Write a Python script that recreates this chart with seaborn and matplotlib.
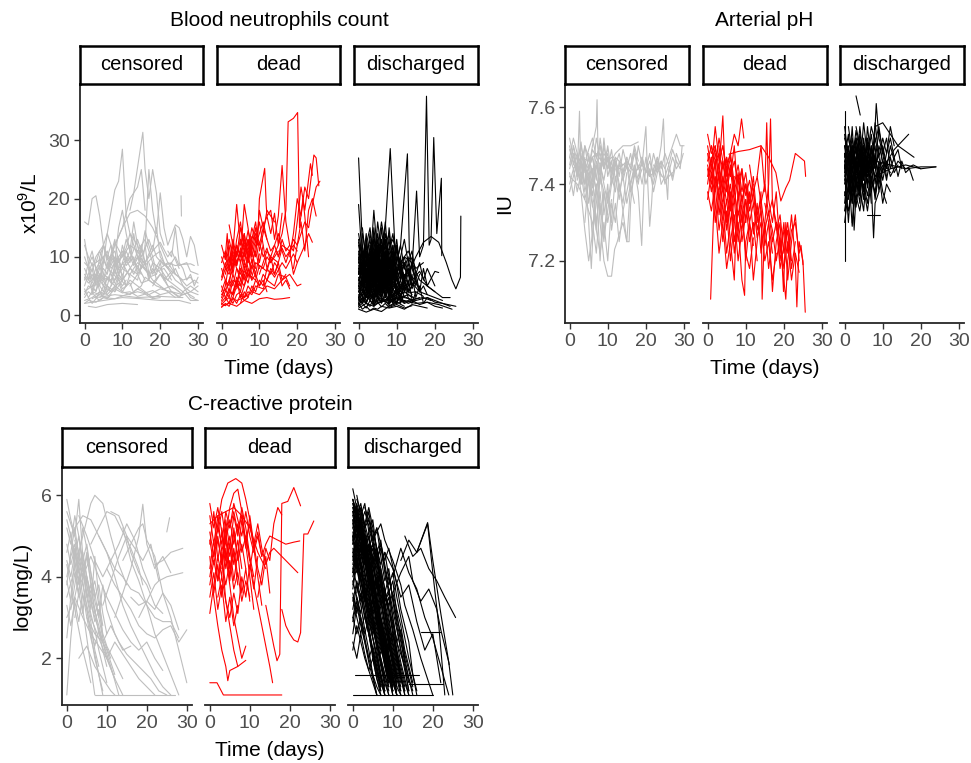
import matplotlib
matplotlib.use("Agg")
import pandas as pd
import seaborn as sns
import matplotlib.pyplot as plt

sns.set_style("ticks")
plt.rcParams['font.family'] = ['Liberation Sans', 'DejaVu Sans']
plt.rcParams['mathtext.fontset'] = 'custom'
plt.rcParams['mathtext.rm'] = 'Liberation Sans'

OUTCOMES = ['censored', 'dead', 'discharged']
COLOURS = {'censored': '#BEBEBE', 'dead': '#FF0000', 'discharged': '#000000'}
DAY_TICKS = [0, 10, 20, 30]

# each string is one patient: "day,value day,value ..."
neut_censored = [
    "0,16 1,15.5 2,20 3,20.5 4,17 5,12 6,9 7,7 8,5.5",
    "4,10 6,14 8,21.5 9,23 10,28.5 11,17 12,14 14,10 16,8",
    "12,18 13,21 15.4,31.4 16,25 17,20 18,25 19,21 20,14 21,12",
    "6,8 8,12 10,15 12,20 14,22 15,25 16,18",
    "16,12 17,25 18,18 19,14 20,21 21,15 22,12 24,15.5 25,15 26,13 27,10 28,13.5 29,12 30,8.5",
    "25.5,20.5 25.6,17",
    "1,1.5 3,1.3 6,1.8 10,2 14,1.8",
    "0,2 5,2.5 10,3 15,2.8 20,2.5 25,2.5 28,2",
    "3,3 8,3.5 14,3 20,3.2 26,3",
    "8,12 10,15 12,17.5 14,18 16,17 18,15 20,12 22,9 24,7",
    "0,10 1,8 2,5 3,4 4,6 5,5 6,3.5",
    "0,13 1,9 2,6 3,7 4,4 5,3",
    "0,5 1,7 2,9 3,6 4,8 5,12 6,10 7,8 8,9 9,7 10,6",
    "0,4 2,5 4,7 6,6 8,9 10,10 12,12 14,11 16,13 18,9 20,8 22,6 24,5 26,4 28,5 30,4",
    "0,3 1,4 2,3.5 3,6 4,10 5,7 6,4",
    "2,4 3,7 4,5 5,9 6,14 7,12 8,8 9,10 10,6",
    "7,5 8,9 9,15 10,18 11,14 12,11 13,16 14,12 15,9",
    "10,6 12,8 14,10 16,9 18,11 19,15 20,10 22,8 24,6 26,5 28,3 30,2.5",
    "18,5 20,7 22,6 24,8 26,5 28,4 30,5",
    "20,8 22,9 24,8.5 26,8.7 28,8.8 29,8.5",
    "0,7 1,6 2,8 3,5 4,7 5,6 6,9 7,7 8,6 9,8 10,7 11,5",
    "0,2.5 2,3 4,4 6,3.5 8,5 10,4 12,6 14,5 16,4 18,3 20,3.5",
    "4,3 6,4 8,6 10,8 12,7 14,9 16,8 18,6 20,5 22,4 24,3",
    "12,5 14,7 15,12 16,9 17,6 18,8 19,7 20,9 21,6 22,5 23,4 24,3.5 25,3 26,4 28,2.5 30,2.5",
    "0,6 1,9 2,11 3,8 4,6 5,10 6,8",
    "22,11 23,10 24,15 25,9 26,8 27,6 28,7 29,5 30,6.5",
    "8,4 10,6 11,10 12,9 13,14 14,10 15,8 16,12 17,7 18,9 19,6",
    "1,3 2,2 3,2.8 4,4 5,3.5 6,5 7,4",
    "0,8 1,6.5 2,4 3,3 4,2.5 5,3 6,2.8 7,3.5",
    "0,3.5 1,5 3,4.2 4,6.5 6,5 7,7.5 9,6 10,4.5 12,5.5 13,3.8",
    "0,9 2,7.5 3,10 5,12 6,9.5 8,11 9,8 11,9.5 13,7 14,8.5 16,6",
    "2,5.5 4,8.5 5,6 7,9 8,12.5 10,10 11,13 13,9 14,11 16,8.5 18,10 19,7.5 21,8 23,6",
    "5,3.5 6,5 8,4 9,6.5 11,5 12,7 14,6 15,8.5 17,7 19,8 21,6.5 22,5 24,4.5 26,3.5",
    "0,12 1,10 2,8.5 4,9.5 5,7 7,6 8,7.5 10,5 11,6",
    "3,9 4,11 6,8 7,10.5 8,13 9,9 11,11.5 12,14 14,12 15,10 17,13 18,11 20,12.5 22,10 23,11 25,8",
    "0,4.5 1,3 2,4 4,3.5 5,5 7,4 9,5.5 10,4 12,3.5 14,4.5 16,3.8 18,4.2 20,3.5 23,4 25,3.2 27,3.8 29,3",
    "8,7 9,9.5 10,8 12,10 13,8.5 15,11 16,9 18,12 19,10 21,8.5 23,9 24,7 26,6 28,6.5 29,5.5",
    "1,6 2,7 3,5.5 5,8 6,7 7,10 9,8 10,12 11,9.5 12,11 14,8 15,7",
    "0,2 1,2.5 3,2.2 5,3 8,2.8 11,3.5 14,4 17,3.5 20,4.5 23,4 26,3.5 28,4 30,3.5",
    "4,5 5,4 6,6.5 8,5 9,7 10,6 12,8 14,7 15,5.5 17,6 19,5 21,4.5 23,5 25,4",
    "10,9 11,11 12,9.5 14,13 15,11 16,14.5 17,12 18,10 20,11 21,9 23,7.5",
    "0,6.5 1,5.5 2,6 3,8 4,7 5,5 6,6.5 7,5.5 8,8 9,6",
    "13,4 15,5 16,6.5 18,5.5 20,7 21,6 23,7.5 25,6.5 27,5 29,6 30,5.5",
    "2,2.8 4,3.5 6,3 8,4.5 10,3.8 12,4 14,3.2 16,3.6 18,2.8 20,3",
    "6,10 7,12 8,9 10,11 11,8.5 13,10 14,7 16,9 17,6.5 19,7",
    "1,8.5 2,10 3,8 4,9 6,11 7,8.5 8,10 9,7 10,9 12,6.5",
    "17,9 18,7 20,9.5 22,8 24,10 25,8.5 27,9 28,7.5 30,7",
]
neut_dead = [
    "13,9 15,12 16,14 17,18 17.6,33.2 19,33.8 20.1,34.8 20.6,15 21.5,20 22,17 23,10",
    "7,10 8,12 9,15 9.5,12 10,20 11.4,25.2 11.8,19 12,17 13,18 14,13 15,17 16,25.7 17,16 18,12 19,11 20,16 21,22 22,18 23.5,26 24,24",
    "18,10 19,14 20,20 21,17 22,22 23,20 24.4,27.5 25,27 25.7,22.2",
    "15,10 16,12 18,11 19,13 20,12 21,14 22,16 23,15 24,19 25,22 26,23",
    "0,1.5 2,2 4,1.5 6,2.5 8,2 10,2.8 12,3 14,2.7 16,2.8 18,3",
    "0,1.3 1,2 2,1.5 3,2.8 4,2.5 6,3 8,4 10,3.5 12,5 14,4.5 16,6 18,7 20,5 21,5.3",
    "0,10 1,8 2,12 3,7 4,11 5,9 6,14 7,10 8,13 9,16 10,11 11,14 12,18 13,17 14,16",
    "0,3 1,5 2,9 3,13 4,10 5,15 6,12 7,10 8,11 9,8",
    "0,2.5 1,4 2,6 3,5 4,8 5,7 6,11 7,9 8,12 9,10 10,18 11,15 12,17 13,14 14,17.5 15,12 16,17.5",
    "1,10 1.5,14 2,9 3,11 4,19 5,12 6,14 7,9 8,12",
    "0,5 1,3 2,2 3,4 4,6 5,3 6,5 7,8 8,6",
    "2,6 3,8 4,12 5,10 6,19 7,15 8,10 9,13 10,9 11,12 12,8 13,10 14,7 15,9 16,6 17,7",
    "0,8 1,6 2,4 3,7 4,5 5,9 6,11 7,8 8,6 9,7 10,5 11,6 12,4",
    "0,1.8 1,2.5 2,3 3,2 4,3.5 5,4 6,3 7,5 8,4 9,6 10,5 11,7 12,6 13,8 14,7 15,9",
    "3,3 4,5 5,8 6,6 7,10 8,8 9,12 10,14 11,16 12,13 13,11 14,12 15,10 16,13 17,11 18,12",
    "0,6 1,8 2,7 3,9 4,12 5,10 6,13 7,11 8,15 9,13 10,16 11,12",
    "5,2 6,4 7,3 8,5 9,4 10,6 11,5 12,8 13,7 14,9 15,8 16,5 17,6 18,4.5",
    "0,4 1,6 2,5 3,10 4,8 5,6 6,9 7,7",
    "10,7 11,9 12,11 13,10 14,12 15,14 16,11 17,9 18,11 19,7 20,9",
    "19,8 20,12 21,16 22,11 23,18 24,20 25,17",
    "0,2 1,1.6 2,2.2 3,3 4,2 5,3.5 6,2.5 7,3",
    "2,15.5 3,12 4,9 5,11 6,8 7,10 8,7",
    "1,7 2,10 3,8 4,13 5,16 6,11 7,13 8,9 9,11 10,8",
    "0,3.5 1,4.5 2,3 3,6 5,5 6,7.5 8,6.5 9,9 11,8 12,10 13,9 15,11",
    "0,6.5 1,9 2,7.5 3,11 4,9 6,12.5 7,10.5 8,13.5 10,12 11,15 12,13",
    "1,2.5 2,4 3,3.5 4,6.5 5,5 6,8 7,6.5 8,9.5 9,7 10,10.5",
    "0,9 1,11 2,8 3,12 4,10 5,13 6,11 7,14.5 8,12",
    "4,4.5 5,6 6,5 7,7 9,6 10,8.5 12,7.5 13,10 15,9 16,11.5 17,10 19,12 20,11",
    "0,2.2 1,3 2,4.5 3,3.5 4,5.5 5,4 6,7 7,5.5 8,8.5 9,6.5",
    "12,6 13,7.5 14,6.5 16,9 17,8 19,10.5 20,9 22,12 23,14 24,12.5",
    "0,12 1,9.5 2,13 3,10 4,8.5 5,11 6,9 7,12.5 8,10",
    "6,3 7,4 8,3.5 9,5 11,4.5 12,6 14,5 15,7 17,6.5 18,5",
    "2,8 3,10.5 4,8.5 5,11.5 6,10 7,13 8,11 9,14 10,12.5 11,10 12,11.5 13,9",
]
neut_discharged = [
    "0,27 1,12 2,6 3,8 4,5 5,7",
    "0,19 1,9 2,11 3,7 4,10 5,6 6,8 7,5",
    "3,8 4,18 5,10 6,13 7,9 8,11 9,7",
    "5,6 6,10 7,15 8.3,28.6 9.5,12 10,9 11,7 12,5",
    "9,6 10,9 11,12 12.8,27.7 13.3,11 14,8 15,6",
    "14,8 15.2,21.3 16,10 17,12 17.8,37.6 18.5,12 19,13 19.7,30.5 20.5,14 21.7,23.5 21.8,10.2",
    "13,7 15,10 17,12.5 19,13.5 21,12.5 23,9 24.5,6 25.5,4.5 26.7,6.5 26.8,17",
    "0,2 1,1 2,1.5 3,0.8 4,1.2 5,1 6,1.5 8,1.2 10,1.5 12,1 14,1.8 16,1.5 18,1.2",
    "0,1 2,0.5 4,1 6,0.6 8,1.5 10,2 12,2.5 15,2 18,2.2 21,1.8 24.5,1",
    "5,3 8,2.5 12,3 15,2.5 18,3 20,2.2 22,2 25.5,1.5",
    "0,12 1,8 2,14 3,6 4,10 5,4 6,9 7,12 8,6",
    "0,5 1,3 2,7 3,4 4,9 5,5 6,3 7,6 8,4 9,8 10,5",
    "0,8 1,10 2,6 3,12 4,7 5,11 6,8 7,14 8,10 9,6 10,8 11,4",
    "0,3 1,6 2,4 3,9 4,3 5,8 6,5 7,10 8,3 9,6 10,4",
    "1,15 2,9 3,11 4,7 5,14 6,10 7,16 8,8 9,12 10,7 11,10 12,5",
    "0,6 1,4 2,9 3,5 4,12 5,7 6,15 7,9 8,13 9,7 10,11",
    "0,10 1,5 2,8 3,3 4,6 5,2 6,5 7,3 8,7 9,4",
    "0,4 1,7 2,12 3,15 4,9 5,13 6,6 7,11 8,5 9,9 10,6 11,8 12,4 13,6 14,3",
    "0,7 1,11 2,5 3,10 4,14 5,8 6,12 7,7 8,15 9,9 10,13 11,7 12,9",
    "0,2 1,4 2,3 3,6 4,2 5,5 6,3 7,7 8,4 9,3 10,5 11,2 12,4",
    "0,9 1,14 2,10 3,13 4,8 5,16 6,11 7,13 8,9 9,11 10,6",
    "0,5 1,9 2,6 3,11 4,4 5,10 6,6 7,9 8,5 9,10 10,7 11,9 12,6 13,8 14,5 15,6",
    "2,3 3,5 4,8 5,6 6,10 7,5 8,9 9,4 10,7 11,3 12,6 13,4 14,5",
    "0,11 1,6 2,13 3,8 4,5 5,9 6,4 7,8 8,2 9,5",
    "0,1.5 1,3 2,2 3,4 4,1.5 5,3 6,2 7,4 8,1.8 9,3 10,2 11,3.5 12,2",
    "0,14 1,10 2,12 3,7 4,11 5,8 6,12 7,6 8,10 9,8 10,12 11,6 12,9 13,5",
    "0,6 1,8 2,4 3,7 4,10 5,6 6,7 7,4 8,6 9,3 10,5 11,4 12,7 13,5 14,9 15,6 16,4",
    "1,4 2,8 3,6 4,15 5,9 6,13 7,8 8,11 9,14 10,9 11,12 12,8 13,10 14,6",
    "0,8 1,5 2,10 3,4 4,7 5,12 6,5 7,9 8,3 9,7 10,4",
    "6,9 7,13 8,8 9,12 10,7 11,10 12,13 13,9 14,11 15,7 16,9 17,6 18,8 20,5",
    "0,3 1,2 2,5 3,3 4,6 5,4 6,8 7,3 8,5 9,2 10,4 11,3 12,5 13,3 14,2 15,4",
    "0,9 1,7 2,11 3,9 4,13 5,7 6,10 7,12 8,7 9,10 10,8",
    "0,4 1,5 2,3 3,8 4,6 5,11 6,7 7,5 8,9 9,6",
    "2,10 3,7 4,13 5,11 6,16 7,12 8,14 9,9 10,12 11,8 12,10 13,7 14,9 15,5 16,7",
    "0,2.5 1,6 2,2 3,5 4,3 5,7 6,2.5 7,6 8,3 9,4 10,2 11,5 12,3",
    "8,6 10,8 12,10 14,9 16,6 18,5 20,4 22,3 24,3",
    "10,4 12,6 13,9 14,5 15,7 16,4 17,8 18,5 20,7.5 21,7.3",
    "0,7 1,12 2,8 3,5 4,9 5,3 6,8 7,11 8,6 9,9 10,3 11,6",
    "0,13 1,7 2,9 3,14 4,10 5,6 6,9 7,5 8,7",
    "3,4 4,2 5,6 6,4 7,9 8,6 9,11 10,7 11,9 12,6 13,4 14,7 15,3 16,5 17,2 18,3 20,2.5 22,2 24,1.5",
    "0,3.5 1,2.5 2,4 3,2.8 5,3.5 6,2.2 8,3 9,2 11,2.8 13,2 15,2.5",
    "0,6.5 1,5 2,7 4,5.5 5,8 6,6 7,4.5 9,6.5 10,5",
    "0,1.8 1,2.5 3,1.5 4,3 5,2 7,2.5 8,1.6 10,2.2 12,1.5",
    "0,4.5 1,6 2,5 3,7.5 4,6 5,4.5 6,5.5 8,4 9,3",
    "0,8.5 1,7 2,9.5 3,7.5 5,6 6,8 7,6.5 8,5 10,6 11,4.5",
    "1,2 2,3.5 3,2.5 4,4.5 5,3.2 6,5 7,3.8 8,2.5 9,3.5 10,2.8 12,3.2 14,2.5 16,3",
    "0,5.5 2,4.5 3,6.5 4,5 6,7 7,5.5 8,4 9,5 11,3.5 12,4 14,3",
    "0,10.5 1,8.5 2,7 3,9 4,6.5 5,8 6,5.5 7,7 8,5",
    "0,3 1,4 2,3.2 3,5 4,4 5,6 6,4.5 7,3.5 8,4.8 9,3.2 10,4 11,2.8",
    "2,6 3,4.5 4,6.5 5,5 6,7.5 7,6 8,8.5 9,6.5 10,5 11,7 12,5.5 13,4 14,5",
    "0,7.5 1,6 2,8 3,6.5 4,5 5,7 6,4.5 7,6 9,4.5 10,3.5",
    "0,2.8 1,2 2,3.5 3,2.5 4,1.8 5,3 6,2.2 7,3.2 8,2 9,2.8 10,1.8",
    "3,12 4,9 5,11.5 6,8 7,10 8,7.5 9,9 10,6 11,8 12,5.5",
    "0,4 1,3.2 2,5 3,4.2 4,6 5,4.5 6,3.5 7,5 8,3.8 9,5.5 10,4 11,3 13,3.5 15,2.8 17,3 19,2.5",
    "0,9.5 1,11 2,8.5 3,10 4,7.5 5,9 6,6.5 7,8 8,6",
    "1,5 2,6.5 3,5.5 4,8 5,6.5 6,9 7,7 8,5.5 9,7.5 10,6 11,4.5 12,6 13,4.5 14,3.5",
    "0,6 1,7.5 2,5.5 3,4 4,5.5 5,4.2 6,6 7,4.8 8,3.5 9,4.5",
    "0,2.2 1,3 2,2 3,3.8 4,2.8 5,4 6,3 7,2.2 8,3 9,2.5 10,3.2 12,2.2 14,2.8",
    "4,10 5,12 6,9.5 7,11 8,8 9,10 10,7.5 11,9 12,6.5 13,8 14,6",
    "0,5 1,4 2,6 3,4.8 4,3.5 5,5.2 6,3.8 7,5 8,4.2 9,3 10,4.5 11,3.5 12,5 13,3.8 15,4 17,3.2",
    "0,12.5 1,10 2,11.5 3,9 4,10.5 5,8 6,9.5 7,7",
    "0,1.5 1,2 2,1.2 3,2.5 4,1.6 5,2.2 6,1.4 7,2 8,1.3 10,1.8 12,1.2 14,1.6",
    "1,9 2,7 3,8.5 4,6 5,7.5 6,5.5 7,8 8,6 9,7 10,4.5 11,6 12,4",
    "0,7 1,8.5 2,6.5 3,8 4,9.5 5,7 6,8.5 7,6 8,7.5 9,5.5",
    "6,5 7,6.5 8,5 9,7.5 10,6 11,8 12,5.5 13,7 14,4.5 15,6 16,4 17,5 18,3.5",
    "0,3 2,4 4,3 6,5 8,4 10,6 12,4.5 14,5.5 16,4 18,3.5 20,3 22,2.5",
    "2,8 4,6 6,9 8,7 10,10 12,8 14,6 16,7.5 18,5 20,4",
    "0,1.2 2,2 4,1.5 6,2.5 8,2 10,3 12,2 14,2.5 16,1.8 18,2.2 20,1.5 22,1.2",
    "1,11 3,9 5,12 7,10 9,13 11,9 13,11 15,8 17,9",
]

ph_censored = [
    "0,7.45 1,7.5 2,7.42 2.6,7.59 3,7.4 4,7.45 5,7.3 5.7,7.18 6.5,7.35 7,7.28 8,7.42",
    "5,7.44 6,7.5 7,7.55 7.2,7.62 7.6,7.4 8,7.3 9,7.2 10,7.16 11,7.16 11.8,7.23 12.5,7.25 13,7.27 14,7.3 15,7.25 16,7.4 17,7.35",
    "0,7.5 1,7.45 2,7.48 3,7.42 4,7.46 5,7.4 6,7.44 7,7.38 8,7.45 9,7.41 10,7.47 11,7.43 12,7.45",
    "0,7.38 1,7.42 2,7.46 3,7.4 4,7.5 5,7.44 6,7.47 7,7.41 8,7.52 9,7.45 10,7.48 11,7.42 12,7.46 13,7.4",
    "0,7.52 1,7.47 2,7.44 3,7.51 4,7.43 5,7.47 6,7.39 7,7.46 8,7.42 9,7.5 10,7.44 11,7.49 12,7.41 13,7.45 14,7.43 15,7.47",
    "0,7.42 2,7.4 4,7.36 6,7.3 7,7.22 8,7.35 9,7.25 10,7.38 11,7.3 12,7.42 13,7.36 14,7.44",
    "3,7.48 4,7.4 5,7.45 6,7.35 7,7.28 8,7.22 9,7.3 10,7.2 11,7.35 12,7.3 13,7.4 14,7.35 15,7.43",
    "10,7.44 12,7.48 14,7.5 16,7.5 18,7.51",
    "14,7.42 15,7.46 16,7.4 17,7.44 18,7.38 18.9,7.24 19.5,7.4 20,7.44 21,7.48 22,7.42 23,7.46 24,7.4",
    "15,7.44 16,7.48 17,7.42 18,7.5 19,7.45 20,7.55 20.5,7.4 21,7.29 21.5,7.35 22,7.44 23,7.47 24,7.42",
    "20,7.46 21,7.42 22,7.48 23,7.44 24,7.5 24.6,7.57 25,7.45 25.7,7.36 26,7.44 27,7.42 28,7.48 29,7.45 29.8,7.48",
    "22,7.45 23,7.43 24,7.46 25,7.44 26,7.47 27,7.5 28,7.53 29,7.5 30,7.5",
    "24,7.4 25,7.42 26,7.45 27,7.41 28,7.46 29,7.44 29.5,7.5",
    "0,7.47 1,7.44 3,7.47 5,7.46 7,7.48 9,7.45 11,7.47 13,7.44 15,7.46 17,7.43 19,7.45 21,7.42 23,7.44 25,7.41 27,7.43",
    "13,7.4 14,7.33 15,7.25 15.6,7.25 16,7.35 17,7.44 18,7.4 19,7.47 20,7.43",
    "2,7.41 3,7.46 4,7.38 5,7.43 6,7.37 7,7.45 8,7.4 9,7.52 10,7.42 11,7.46 12,7.38",
    "5,7.48 6,7.42 7,7.52 8,7.47 9,7.44 10,7.5 11,7.43 12,7.47 13,7.42 14,7.49 15,7.45 16,7.43 17,7.48 18,7.44",
    "4,7.3 5,7.42 6,7.25 7,7.4 8,7.2 9,7.38 10,7.32",
    "0,7.43 1,7.37 2,7.44 3,7.4 4,7.47",
    "8,7.45 9,7.4 10,7.35 11,7.42 12,7.38 13,7.46 14,7.41 15,7.45 16,7.38 17,7.42 18,7.45 19,7.4 20,7.47 21,7.43 22,7.4 23,7.45",
    "0,7.44 1,7.48 2,7.43 3,7.47 5,7.44 6,7.49 8,7.45 9,7.48 11,7.44 12,7.47 14,7.45",
    "1,7.5 2,7.46 3,7.5 4,7.45 5,7.49 6,7.52 7,7.47 8,7.5 9,7.46 10,7.49",
    "0,7.4 1,7.44 2,7.38 3,7.43 4,7.36 5,7.41 6,7.34 7,7.4 8,7.32 9,7.38 10,7.3 11,7.36",
    "6,7.44 7,7.38 8,7.45 9,7.32 10,7.4 11,7.28 12,7.35 13,7.25 14,7.33 15,7.38 16,7.43",
    "16,7.45 17,7.49 18,7.44 19,7.47 20,7.43 21,7.46 22,7.42 23,7.47 24,7.44 25,7.48 26,7.45 27,7.49 28,7.46",
    "0,7.47 1,7.52 2,7.48 3,7.45 4,7.5 5,7.47 6,7.43 7,7.47 8,7.5 9,7.44",
    "3,7.42 4,7.46 5,7.35 6,7.42 7,7.3 8,7.38 9,7.26 10,7.33 11,7.4 12,7.44",
    "18,7.42 19,7.46 20,7.4 21,7.44 22,7.38 23,7.43 24,7.46 25,7.4 26,7.43 27,7.47 28,7.44 29,7.46",
    "8,7.48 9,7.44 10,7.47 11,7.4 12,7.45 13,7.48 14,7.43 15,7.47 16,7.44 17,7.5 18,7.46",
    "0,7.49 1,7.46 2,7.42 3,7.45 4,7.4 5,7.44 6,7.47 7,7.42",
    "2,7.45 3,7.38 4,7.28 5,7.2 6,7.27 7,7.35 8,7.42 9,7.38",
    "11,7.42 12,7.46 13,7.38 14,7.42 15,7.35 16,7.4 17,7.45 18,7.41 19,7.44",
]
ph_dead = [
    "0.8,7.1 1.5,7.3 2,7.42 3,7.38 4,7.45",
    "0,7.53 1,7.48 2,7.5 3,7.44 4,7.578 4.5,7.45 5,7.4 6,7.35",
    "0,7.48 1,7.42 2,7.5 3,7.4 4,7.46 5,7.38 6,7.44 7,7.35 8,7.42 9,7.3 10,7.36 11,7.25 12,7.3 13,7.2",
    "0,7.44 1,7.38 2,7.46 3,7.32 4,7.4 5,7.28 6,7.36 7,7.22 8,7.3 9,7.15 9.7,7.11 10,7.25 11,7.3",
    "5,7.45 6,7.48 7,7.53 8,7.5 8.9,7.57 9.5,7.52",
    "5.6,7.478 8,7.485 11,7.49 14,7.5 16,7.47 17.9,7.43 19.2,7.356 20.5,7.39 21.5,7.41 23,7.48 25.4,7.46 25.7,7.42",
    "10,7.4 11,7.35 12,7.42 13,7.3 14,7.38 14.3,7.1 15,7.3 16,7.4 16.5,7.57 17,7.35 18,7.3 19,7.2 20,7.28",
    "15,7.35 16,7.3 17,7.12 18,7.25 19,7.3 19.9,7.12 20.5,7.3 21,7.22 22,7.32 23,7.2 23.4,7.08 24,7.25 25,7.2 25.6,7.066",
    "18,7.3 19,7.25 20,7.15 20.5,7.1 21,7.2 22,7.28 23,7.3 24,7.22 24.5,7.24 25,7.19",
    "0,7.4 1,7.47 2,7.38 3,7.43 4,7.3 5,7.36 6,7.25 7,7.15 7.5,7.3 8,7.38 9,7.25 10,7.32",
    "0,7.5 1,7.44 2,7.55 3,7.46 4,7.5 5,7.42 6,7.47 7,7.38 8,7.43 9,7.35 10,7.4 11,7.33 12,7.38 13,7.28 14,7.33 15,7.24 16,7.3 17,7.22",
    "0,7.36 1,7.43 2,7.3 3,7.38 4,7.25 5,7.33 6,7.2 7,7.3",
    "11,7.45 12,7.38 13,7.42 14,7.35 15,7.4 16,7.32 17,7.36 18,7.28 19,7.32 20,7.22 21,7.28 22,7.18 23,7.25",
    "3,7.5 4,7.4 5,7.47 6,7.33 7,7.4 8,7.28 9,7.35 10,7.2 11,7.3 12,7.15 13,7.25 14,7.35",
    "0,7.46 1,7.5 2,7.46 3,7.48 4,7.44 5,7.47 6,7.42 7,7.46 8,7.4 9,7.44 10,7.37 11,7.41 12,7.35",
    "13,7.42 14,7.5 15,7.38 15.5,7.56 16,7.36 17,7.3 18,7.38 19,7.22 20,7.3 21,7.15 22,7.25 23,7.32 24,7.2",
    "6,7.42 7,7.5 8,7.36 9,7.44 10,7.3 11,7.38 12,7.27 13,7.35 14,7.22 15,7.3 16,7.18 17,7.26",
    "1,7.45 2,7.35 3,7.22 4,7.3 5,7.18 6,7.25 7,7.32 8,7.2 9,7.28",
    "0,7.42 1,7.47 2,7.4 3,7.45 4,7.38 5,7.44 6,7.36 7,7.42",
    "1,7.5 2,7.44 3,7.52 4,7.46 5,7.4 6,7.45 7,7.38 8,7.32 9,7.37 10,7.3",
    "2,7.48 3,7.42 4,7.35 5,7.4 6,7.3 7,7.36 8,7.25 9,7.32 10,7.22 11,7.18 12,7.26",
    "8,7.42 9,7.36 10,7.4 11,7.3 12,7.35 13,7.26 14,7.3 15,7.2 16,7.25 17,7.15 18,7.22",
    "0,7.45 1,7.4 2,7.46 3,7.36 4,7.42 5,7.35 6,7.4 7,7.3",
    "12,7.38 13,7.32 14,7.36 15,7.28 16,7.33 17,7.25 18,7.3 19,7.18 20,7.24 21,7.3 22,7.2",
    "4,7.5 5,7.44 6,7.48 7,7.4 8,7.45 9,7.38 10,7.43 11,7.35 12,7.4",
    "0,7.38 1,7.33 2,7.4 3,7.28 4,7.35 5,7.22 6,7.3",
    "16,7.32 17,7.28 18,7.2 19,7.26 20,7.18 21,7.25 22,7.15 23,7.22 24,7.17",
    "3,7.44 4,7.38 5,7.3 6,7.38 7,7.25 8,7.33 9,7.28 10,7.36 11,7.3 12,7.24",
]
ph_discharged = [
    "0,7.59 0,7.2",
    "3,7.63 4.1,7.58",
    "7.5,7.45 8.3,7.61 9,7.52 10,7.48 11,7.42",
    "6,7.32 9.4,7.32",
    "7,7.4 7.6,7.26 8,7.35 9,7.38",
    "4,7.48 8,7.46 12,7.45 16,7.44 20,7.445 24,7.445",
    "8,7.42 12,7.44 16,7.45 20,7.44 23.9,7.445",
    "10,7.44 13,7.49 16.8,7.53",
    "8,7.55 10,7.56 14,7.5 18.2,7.47",
    "0,7.5 1,7.42 2,7.55 3,7.38 4,7.5 5,7.43",
    "0,7.4 1,7.48 2,7.35 3,7.46 4,7.4 5,7.52 6,7.44",
    "0,7.45 1,7.3 2,7.44 3,7.5 4,7.42 5,7.47 6,7.4 7,7.5 8,7.44",
    "0,7.55 1,7.47 2,7.41 3,7.52 4,7.45 5,7.38 6,7.48",
    "0,7.35 1,7.44 2,7.29 3,7.4 4,7.47 5,7.36 6,7.45 7,7.42",
    "0,7.47 1,7.53 2,7.45 3,7.49 4,7.37 5,7.5 6,7.46 7,7.53 8,7.45 9,7.48",
    "1,7.38 2,7.5 3,7.44 4,7.55 5,7.46 6,7.51 7,7.4 8,7.47 9,7.42 10,7.5 11,7.45",
    "0,7.42 1,7.46 2,7.52 3,7.43 4,7.49 5,7.41 6,7.55 7,7.46 8,7.5 9,7.38 10,7.44",
    "0,7.3 1,7.38 2,7.45 3,7.34 4,7.42 5,7.48",
    "2,7.3 3,7.42 4,7.35 5,7.47 6,7.39 7,7.45 8,7.36 9,7.43 10,7.35 11,7.4 12,7.38",
    "0,7.52 1,7.49 2,7.46 3,7.54 4,7.48 5,7.44 6,7.5 7,7.43 8,7.56 9,7.47 10,7.52 11,7.48 12,7.55 13,7.5",
    "0,7.44 1,7.5 2,7.4 3,7.47 4,7.52 5,7.45 6,7.42 7,7.48",
    "1,7.55 2,7.48 3,7.52 4,7.44 5,7.56 6,7.47 7,7.38 8,7.43 9,7.5 10,7.46 11,7.41 12,7.47 13,7.43 14,7.45",
    "0,7.38 1,7.33 2,7.4 3,7.36 4,7.44 5,7.39 6,7.33 7,7.41 8,7.38 9,7.45",
    "0,7.48 1,7.4 2,7.47 3,7.41 4,7.37 5,7.45 6,7.52 7,7.47",
    "3,7.55 4,7.5 5,7.42 6,7.48 7,7.55 8,7.51 9,7.55 10,7.48 11,7.52 12,7.44 13,7.47 14,7.42 15,7.46 16,7.43 17,7.44 18,7.41",
    "5,7.4 6,7.35 7,7.42 8,7.37 9,7.44 10,7.38 11,7.35",
    "0,7.46 1,7.36 2,7.42 2.5,7.28 3,7.37 4,7.33 5,7.4",
    "1,7.47 2,7.44 3,7.4 4,7.46 5,7.5 6,7.43 7,7.49 8,7.4 9,7.46 10,7.41 11,7.46 12,7.42 14,7.46 16,7.44 18,7.45 20,7.44",
    "0,7.5 1,7.46 2,7.36 3,7.45 4,7.39 5,7.33 6,7.46 7,7.35",
    "4,7.45 5,7.5 6,7.44 7,7.5 8,7.46 9,7.54 10,7.49 11,7.44 12,7.5 13,7.46",
    "2,7.46 3,7.52 4,7.47 5,7.42 6,7.37 7,7.43 8,7.48 9,7.4 10,7.45",
    "0,7.43 1,7.47 2,7.41 3,7.46 4,7.4 5,7.45 6,7.41",
    "0,7.53 1,7.45 2,7.5 3,7.46 4,7.53 5,7.48 6,7.44",
    "0,7.37 1,7.42 2,7.38 3,7.44 4,7.39 5,7.43",
    "1,7.44 2,7.48 3,7.42 4,7.46 5,7.41 6,7.47 7,7.43 8,7.45",
    "0,7.48 1,7.43 2,7.46 3,7.5 4,7.45 5,7.48",
    "0,7.41 1,7.45 2,7.49 3,7.44 4,7.42 5,7.47 6,7.43 7,7.46 8,7.41 9,7.44",
    "2,7.5 3,7.45 4,7.41 5,7.46 6,7.5 7,7.45 8,7.42 10,7.46 12,7.43",
    "0,7.46 1,7.49 2,7.43 3,7.47 4,7.51 5,7.44",
    "0,7.33 1,7.4 2,7.35 3,7.42 4,7.38 5,7.45 6,7.4",
    "1,7.52 2,7.47 3,7.43 4,7.49 5,7.45 6,7.42 7,7.47 8,7.44 9,7.48",
    "6,7.5 7,7.45 8,7.52 9,7.47 10,7.43 11,7.48 12,7.52 13,7.47 14,7.49 15,7.44",
    "0,7.45 1,7.41 2,7.47 3,7.43 4,7.48 5,7.42 6,7.46",
]

crp_censored = [
    "0,3.5 2,4.2 4,5 6,5.8 7,6 9,5.8 11,5 13,4.3 15,3.8",
    "0,5.9 1,5.4 3,4.6 5,3.8 7,3 9,2.4 11,1.8 13,1.1",
    "0,5.6 2,5 3,5.9 4,4.5 6,3.5 8,2.8 10,2 12,1.5",
    "0,4 1,4.5 2,4.8 3,4.2 4,3.5 5,3.2 6,2.6 7,2 8,1.6 9,1.1",
    "0,4.8 1,4.3 2,4.7 3,4.1 4,3.8 5,3.3 6,2.9 7,2.2 8,1.8",
    "0,2.5 1,3.5 2,4.5 3,5 4,4.2 5,3.5 6,3 8,2.5 10,2 12,1.5 14,1.1",
    "0,3.8 1,4.6 2,5.2 3,4.5 4,4 5,4.6 6,3.8 7,3.2 8,2.6 10,2.2 12,1.6",
    "0,1.1 1,2.5 2,3.5 3,4 4,3.2 5,2.5 6,1.8 7,1.1",
    "1,5 2,4.2 3,3.6 4,4.4 5,3.8 6,3.2 7,4.5 8,3.5 9,2.5",
    "2,4.9 3,4.4 4,5.2 5,4.7 6,4.1 7,3.6 8,3 9,3.8 10,3.2 12,2.6 14,2.2 16,2.3",
    "11,5.6 13,5.5 15,5 17,4.7 19,4.4 21,4.8 23,3.9",
    "12,3 14,3.6 16,4.2 18,5 19,5.78 20,4.8 22,4.2 24,4.5 26,4.1",
    "22,4.3 24,4.4 26,4.6 29,4.7",
    "16,3.5 18,3.3 20,3.4 22,3.8 23,3.9 25,4 27,4.05 29,4.1",
    "25,5.1 25.7,5.45",
    "7,1.1 27,1.1",
    "10,4.2 12,3.8 14,3.5 16,3.2 18,2.8 20,2.6 22,2.5 24,2.7 26,2.8 28,2.4 30,2.7",
    "8,5 10,4.6 12,4 14,3.3 16,2.8 18,2.4 20,2 22,1.6 24,1.3 26,1.1",
    "5,3 7,2.6 9,2.4 11,2.8 13,2.4 15,2.1 17,1.9 19,1.7 21,1.5 23,1.2 25,1.1",
    "14,4.4 16,4.8 18,5.2 19,5.3 20,4.9 22,4.5 24,3.6 26,3 28,2.2 30,1.4",
    "2,5.2 4,5.5 6,5.4 8,5 10,4.6 12,4.2 14,4 16,3.7 18,3.6 20,3.3 22,3 24,2.9 26,2.9 28,2.5",
    "6,4.8 8,5.2 10,5.6 12,5.5 14,5.1 16,4.7 18,4.2 19,3.8",
    "0,4.3 1,3.8 2,3.2 3,2.7 4,2.2 5,1.8 6,1.4",
    "3,2 5,2.3 7,1.8 9,1.5 11,1.2 12,1.1",
    "0,3 2,3.5 4,3 6,2.6 8,2.3 10,2 12,2.4 14,2.1 16,1.8 18,1.5 20,1.3 22,1.1",
    "14,5.2 16,4.4 18,3.9 20,3.3 22,2.6 24,2.1 26,1.6 28,1.1",
    "0,5.2 1,4.8 2,5.5 3,5 4,4.4 5,4.8 6,4.1 7,3.5 8,3.8 9,3.1 10,2.6",
    "0,4.6 1,5.1 2,4.4 3,3.8 4,4.3 5,3.6 6,3.1 7,2.7 8,2.2 9,1.8 10,1.4",
    "1,3.2 2,3.8 3,4.4 4,3.9 5,4.5 6,3.9 7,3.4 8,3 9,2.5 11,2",
    "0,3.3 1,2.8 2,3.4 3,2.9 4,3.6 5,3 6,2.5 7,2.1 8,1.6 9,1.2",
    "3,5.5 5,5 7,4.4 9,4 11,4.4 13,4.8 15,5.3 17,4.9 19,4.2 21,3.7",
    "0,4.4 1,4 2,4.6 3,3.9 4,4.2 5,3.5 6,3.8 7,3.1 8,3.4 9,2.8",
    "2,3 3,3.6 4,3.1 5,4 6,3.4 7,2.9 8,3.2 9,2.6 10,2.3 12,1.9 14,1.5",
    "0,5.4 1,5 2,4.6 3,4.1 4,4.6 5,4 6,3.6 7,3.9 8,3.3",
    "9,3.3 11,3.9 13,4.5 15,5 16,4.6 18,4.1 20,3.8 22,3.3 24,3.1",
    "0,3.9 1,3.4 2,4.1 3,3.5 4,3.9 5,3.2 6,2.7 7,2.3 8,2.7 9,2.2 10,1.8",
    "4,4 6,4.5 8,4 10,3.5 12,3.1 14,2.7 16,2.4 18,2.2 20,2.4 22,2 24,1.7",
    "18,3 20,3.4 22,3.2 24,3.6 26,3.3 27,3 28,2.7",
]
crp_dead = [
    "0,1.4 1.8,1.4 3.4,1.1 18,1.1",
    "1,4.5 2,5.3 3,5.9 4.5,6.3 6.5,6.41 8,6.3 9,5.9 10,5.4 11,4.7 12,4 13,3.3",
    "3,4.2 4,5 5,5.7 6,6.05 7,6.15 8,5.6 9,4.8 10,4 11,3.2",
    "14,3.3 15,2.8 16,2.3 16.8,1.94 17.5,2.1 18,5.8 19.5,5.85 21,6.19 22.7,5.74",
    "18,3.2 19,2.8 20,2.6 21,2.45 22,2.4 22.7,2.63 23.5,5.05 24.5,5.05 26,5.37",
    "9,5 10,4.4 11,3.8 12,3.3 13,2.8 14,2.3 15,1.8 15.7,1.4",
    "0,4.5 1,3.5 2,2.8 3,2.2 4,1.8 4.5,1.45 5,1.7 7,1.8 9,1.95",
    "0,5.5 1,4.8 2,5.5 3,4.6 4,5.2 5,4 6,4.6 7,3.8",
    "0,4.8 1,5.6 2,4.4 3,5.1 4,4.2 5,4.8 6,3.9 7,4.6 8,3.6 9,4.2 10,3.4",
    "0,3.1 1,3.8 2,4.5 3,4 4,5.4 5,4.7 6,5.5 7,5 8,5.7 9,5.2 10,4.5 11,4",
    "0,4.2 1,4.9 2,3.9 3,4.6 4,3.4 5,2.8 6,2.2 7,1.8",
    "0,5.8 1,5.2 2,5.7 3,5.1 4,4.4 5,5 6,4.3 7,4.9 8,4.2",
    "1,3.6 2,4.3 3,3.5 4,4.7 5,3.9 6,5.2 7,4.5 8,5.4 9,4.7 10,5.5 11,4.8 12,4.2 13,3.8 14,4.5 15,3.6",
    "0,4 1,4.6 2,5.2 3,4.8 4,5.6 5,5.2 6,5.8 7,5.4 8,5 9,5.6 10,5 11,4.6 12,5 13,4.5 14,4.8 15,5 17,4.9 19,4.8 21,4.85 22.5,4.88",
    "10,4.2 11,4.8 12,5.3 13,4.7 14,4.3 15,4.6 16,4.7 18,4.5 20,4.3 22,4.1",
    "3,5.2 4,4.5 5,3.8 6,3 7,2.5 8,2 9,2.3",
    "12,3.5 13,4.1 14,4.7 15,4.4 16,5.3 17,5.7 18,5.52",
    "0,5.3 2,5.5 4,5.6 6,5.7 8,5.5 10,5.2 12,4.6 14,4.2",
    "2,3.5 3,4 4,3.4 5,3 6,3.6 7,3.1 8,4 9,3.5 10,4.3 11,3.7 12,4.5",
    "0,4.9 1,4.3 2,4.9 3,4.4 4,5 5,4.5 6,5.1 7,4.4 8,4.8 9,4.2",
    "0,3.8 1,4.4 2,3.9 3,4.4 4,3.8 5,4.4 6,3.7 7,4.1 8,3.4 9,3.9 10,3.5",
    "1,5.5 2,5.1 3,5.6 4,4.9 5,5.4 6,4.8 7,5.3 8,4.6 9,5 10,4.4",
    "0,3.5 1,4.1 2,3.2 3,3.8 4,2.9 5,3.5 6,2.8 7,3.3",
    "5,5.2 6,5.6 7,5.1 8,5.5 9,4.9 10,5.3 11,4.7 12,5.1 13,4.5",
    "0,5.1 1,4.5 2,5 3,4.3 4,4.9 5,4.2 6,4.7 7,4",
]
crp_discharged = [
    "0,6.16 2,5.2 4,4.3 6,3.4 8,2.5 10,1.6 11,1.1",
    "0,5.8 1,5.5 2,5 3,4.4 4,3.8 5,3.1 6,2.5 7,1.9 8,1.4 9,1.1",
    "0,5.6 1,5.7 2,5.3 3,4.9 4,4.2 5,3.6 6,3 7,2.4 8,1.8 9,1.3",
    "0,5.2 1,5.6 2,5.1 3,4.5 4,4.8 5,4 6,3.3 7,2.6 8,2 9,1.5 10,1.1",
    "0,4.8 1,5.3 2,4.7 3,4.1 4,3.5 5,2.9 6,2.2 7,1.6 8,1.1",
    "0,4.4 1,4.9 2,5.4 3,4.8 4,4.3 5,3.7 6,3.2 7,2.7 8,2.1 9,1.6 10,1.2",
    "0,5.7 1,5.2 2,5.5 3,5.1 4,4.6 5,4.8 6,4.2 7,3.6 8,3.1 9,2.5 10,2 11,1.5 12,1.1",
    "0,3.8 1,4.5 2,4 3,3.4 4,2.8 5,2.2 6,1.7 7,1.2",
    "0,5 1,4.6 2,5.1 3,4.5 4,3.9 5,4.3 6,3.7 7,3 8,2.4 9,1.8 10,1.4",
    "0,3.2 1,3.8 2,3.3 3,2.7 4,2.2 5,1.6 6,1.1",
    "1,5.9 2,5.6 3,5.2 4,5.4 5,4.9 6,4.4 7,3.8 8,3.3 9,2.7 10,2.2 11,1.7 12,1.3",
    "0,4.2 1,4.7 2,4.3 3,3.9 4,4.4 5,3.8 6,3.3 7,2.8 8,2.3 9,2.6 10,2 11,1.5",
    "0,5.4 1,4.8 2,4.2 3,3.6 4,3 5,2.5 6,2 7,1.5 8,1.1",
    "0,2.6 1,3.3 2,2.8 3,2.4 4,1.9 5,1.5 6,1.1",
    "0,4.6 1,5 2,4.5 3,4.9 4,4.3 5,3.6 6,4 7,3.4 8,2.9 9,2.3 10,1.8 11,1.3 12,1.1",
    "2,5.6 3,5.2 4,4.7 5,5 6,4.5 7,4 8,3.4 9,3.6 10,3 11,2.4 12,1.9 13,1.5 14,1.1",
    "0,5.3 1,5.7 2,5.2 3,4.6 4,4 5,3.4 6,2.9 7,2.3 8,1.9 9,1.4",
    "0,3.6 1,3.1 2,3.6 3,3 4,2.6 5,2.1 6,1.7 7,1.3",
    "3,5.7 4,5.4 5,5.1 6,4.7 7,4.3 8,4.6 9,4 10,3.5 11,2.9 12,2.4 13,1.9 14,1.5 15,1.2",
    "0,4 1,4.4 2,3.9 3,3.4 4,3.8 5,3.2 6,2.7 7,2.2 8,2.5 9,1.9 10,1.5 11,1.1",
    "0.5,1.6 16.6,1.6",
    "14,1.38 22.5,1.38",
    "17,2.65 22,2.65",
    "0,1.1 20,1.1",
    "12,4.4 14,4.9 16,4.6 18.7,5.33 20,4.4 22,3.1 24.1,1.84",
    "16,4.6 18.7,5.3 20,4.1 21.5,2.8 23,1.1",
    "13,5 15,4.5 17,4.7 19,4.2 21,3.9 23,3.5 25.7,3",
    "10,4 12,4.7 14,4.1 16,3.7 18,3 20,2.5 22,1.8 24,1.1",
    "8,4.6 10,4.2 12,3.5 14,3.8 16,2.9 18,2.2 20,2.6 21,2 22,1.4",
    "5,4.9 7,5.3 8,4.9 10,4.4 12,3.8 13,3.3 15,2.7 17,2 19,1.4 20,1.1",
    "10,3.6 12,4.1 14,4.5 15,3.9 17,3.4 19,3.7 21,3.2 22,2.7 24,1.9 25,1.1",
    "0,5.9 1,5.4 2,5.7 3,5.3 4,4.9 5,4.5 6,4.1 7,3.6 8,3.1 9,2.6 10,2.1 11,1.6 12,1.2",
    "1,4.2 2,4.8 3,4.3 4,3.7 5,3.1 6,3.5 7,2.9 8,2.3 9,1.8 10,1.3",
    "0,5 1,4.3 2,3.7 3,3.2 4,2.6 5,2 6,1.5 7,1.1",
    "2,4.6 3,5.3 4,5.7 5,5.2 6,4.7 7,4.2 8,3.7 9,3.2 10,2.6 11,2.1 12,1.7 13,1.3",
    "0,3 1,2.6 2,3 3,2.5 4,2 5,1.6 6,1.3 7,1.1",
    "4,3.3 5,3.8 6,3.4 7,3 8,2.6 9,2.2 10,2.6 11,2 12,1.5 13,1.2",
    "6,4.4 7,4.8 8,4.3 9,3.8 10,4.1 11,3.5 12,3 13,2.5 14,2 15,1.6 16,1.2",
    "0,4.9 1,5.5 2,4.9 3,4.3 4,4.7 5,4.1 6,3.5 7,2.9 8,2.3 9,1.7 10,1.2",
    "0,5.5 1,5.1 2,4.6 3,5 4,4.4 5,3.8 6,3.2 7,2.7 8,2.1 9,1.6 10,1.1",
    "0,5.1 1,4.7 2,4.2 3,3.8 4,3.3 5,2.8 6,2.4 7,1.9 8,1.5 9,1.1",
    "0,4.5 1,4.1 2,4.4 3,3.7 4,3.2 5,2.7 6,2.3 7,1.8 8,1.3",
    "0,5.9 1,5.6 2,5.2 3,4.7 4,4.2 5,3.8 6,3.3 7,2.8 8,2.3 9,1.9 10,1.5 11,1.1",
    "1,5.2 2,4.8 3,4.4 4,4.8 5,4.3 6,3.8 7,3.2 8,2.7 9,2.1 10,1.6 11,1.2",
    "0,3.4 1,3.9 2,3.5 3,3 4,2.6 5,2.2 6,1.8 7,1.4 8,1.1",
    "0,5.6 1,5.2 2,4.7 3,4.1 4,3.6 5,3 6,2.4 7,1.9 8,1.4",
    "0,4.2 1,3.8 2,3.4 3,3.9 4,3.4 5,2.9 6,2.4 7,2 8,1.6 9,1.2",
    "2,5.1 3,4.6 4,4.1 5,3.6 6,3.1 7,2.6 8,2.2 9,1.7 10,1.3",
    "0,4.7 1,4.3 2,3.9 3,3.4 4,2.9 5,2.5 6,2.1 7,1.6 8,1.2",
    "0,5.3 1,4.9 2,4.4 3,4.8 4,4.4 5,3.9 6,3.4 7,2.9 8,2.4 9,1.9 10,1.4 11,1.1",
    "1,3.6 2,4.1 3,3.7 4,3.2 5,2.8 6,2.4 7,2 8,1.6 9,1.3",
    "0,5.8 1,5.3 2,4.9 3,4.5 4,4.1 5,3.6 6,3.9 7,3.4 8,2.9 9,2.4 10,1.9 11,1.4",
    "3,4.9 4,4.5 5,4.8 6,4.3 7,3.8 8,3.3 9,2.8 10,2.3 11,1.8 12,1.4",
    "0,2.2 1,2.8 2,2.4 3,2 4,1.7 5,1.4 6,1.1",
    "0,4.1 1,4.6 2,4.2 3,3.6 4,3.1 5,2.6 6,2.9 7,2.4 8,1.9 9,1.5",
    "0,5.5 1,5.8 2,5.4 3,5 4,4.5 5,4 6,3.5 7,3 8,2.6 9,2.1 10,1.7 11,1.3",
    "1,4.4 2,4 3,4.5 4,4 5,3.5 6,3 7,2.5 8,2 9,1.6 10,1.2",
    "0,4.9 1,4.5 2,4 3,3.5 4,3.9 5,3.4 6,2.8 7,2.3 8,1.8 9,1.4",
    "2,3.9 3,3.5 4,3 5,3.4 6,2.9 7,2.5 8,2 9,1.6 10,1.2",
    "0,5.2 1,4.9 2,5.3 3,4.8 4,4.3 5,3.9 6,3.4 7,2.9 8,2.5 9,2 10,1.6",
    "4,5.2 5,4.8 6,4.4 7,4.7 8,4.2 9,3.7 10,3.2 11,2.7 12,2.2 13,1.8 14,1.4",
    "0,3.9 1,3.5 2,3 3,2.6 4,3 5,2.5 6,2 7,1.6 8,1.2",
    "0,4.3 1,4.8 2,4.4 3,4 4,3.5 5,3 6,2.6 7,2.1 8,2.4 9,1.9 10,1.5 11,1.1",
    "1,5.6 2,5.2 3,4.8 4,4.3 5,3.8 6,3.3 7,2.8 8,2.3 9,1.8 10,1.4",
    "6,3.8 7,4.2 8,3.7 9,3.2 10,2.7 11,2.2 12,1.8 13,1.4 14,1.1",
    "0,2.9 1,3.4 2,2.9 3,2.4 4,2 5,2.3 6,1.9 7,1.5 8,1.2",
    "0,5 1,5.4 2,5 3,4.6 4,4.1 5,3.5 6,3 7,2.5 8,2 9,2.3 10,1.8 11,1.3",
    "8,3.6 9,4 10,3.5 11,3 12,2.6 13,2.1 14,1.7 15,1.3",
    "0,4.6 1,4.2 2,3.7 3,3.2 4,2.7 5,2.2 6,1.8 7,1.3",
    "2,5.4 3,5 4,4.5 5,4.1 6,4.4 7,3.9 8,3.4 9,2.9 10,2.4 11,1.9 12,1.5 13,1.1",
    "0,5.7 2,5.3 3,5.6 5,4.9 6,5.2 8,4.4 9,4.7 11,3.8 12,3.2 14,2.4 15,1.6 16,1.1",
    "0,4.8 1,5.2 3,4.9 4,4.2 6,4.5 7,3.9 9,3.3 10,3.6 12,2.8 13,2.2 15,1.4",
    "0,3.7 1,4.3 2,4.8 4,4.4 5,3.8 7,4.1 8,3.5 10,2.9 11,2.4 13,1.8 14,1.2",
    "1,6 2,5.5 3,5.8 4,5.1 5,5.4 6,4.6 7,4.9 8,4.1 9,3.6 10,3.9 11,3.1 12,2.5 13,1.9",
    "0,5.4 1,5 2,5.3 3,4.7 4,5 5,4.3 6,4.6 7,3.8 8,3.2 9,3.5 10,2.7 11,2.1 12,1.6",
    "0,4.5 1,4.9 2,4.4 3,4.8 4,4.1 5,4.5 6,3.7 7,4 8,3.2 9,2.6 10,2.9 11,2.2 12,1.6 13,1.1",
    "2,4.2 3,4.6 4,4.1 5,4.5 6,3.8 7,3.3 8,3.7 9,3 10,2.4 11,1.9 12,1.5",
    "0,3 1,3.5 2,3.1 3,3.7 4,3.2 5,2.7 6,3.1 7,2.5 8,2 9,1.6",
    "0,5.9 1,5.5 2,5.8 3,5.2 4,5.6 5,4.9 6,5.2 7,4.5 8,3.9 9,4.2 10,3.4 11,2.8 12,2.2 13,1.7 14,1.2",
    "0,2.4 1,2 2,2.6 3,2.1 4,1.7 5,2 6,1.5 7,1.2",
    "0,4.1 1,4.5 2,4 3,4.4 4,3.8 5,4.1 6,3.5 7,3.8 8,3.1 9,2.5 10,2.1 11,1.6 12,1.2",
    "1,5 2,5.4 3,4.8 4,5.1 5,4.4 6,4.7 7,4 8,3.4 9,3.7 10,3 11,2.4 12,2.7 13,2 14,1.5 15,1.1",
    "0,5.6 1,5.1 2,5.5 3,4.9 4,4.4 5,4.7 6,4 7,3.5 8,2.9 9,2.4 10,1.9 11,1.5",
    "3,3.4 4,3.9 5,3.5 6,3 7,3.4 8,2.8 9,2.3 10,2.6 11,2 12,1.6 13,1.2",
    "0,3.5 1,3 2,2.6 3,3.1 4,2.6 5,2.1 6,1.6 7,1.3",
]


def to_frame(tracks):
    rows = []
    for pid, s in enumerate(tracks):
        for pair in s.split():
            d, v = pair.split(',')
            rows.append((pid, float(d), float(v)))
    return pd.DataFrame(rows, columns=['id', 'day', 'value'])


W, H = 971, 763
fig = plt.figure(figsize=(W / 100, H / 100), dpi=100)


def px_axes(x0, y0, x1, y1):
    return fig.add_axes([x0 / W, 1 - y1 / H, (x1 - x0) / W, (y1 - y0) / H])


groups = [
    dict(title='Blood neutrophils count', ylabel=r'x10$^{\mathregular{9}}$/L',
         tracks=[neut_censored, neut_dead, neut_discharged],
         ylim=(-1.37, 39.7), yticks=[0, 10, 20, 30], yfmt='{:g}',
         cols=[(80, 203), (217, 340), (354, 478)], strip=(46, 84), panel=(84, 323),
         title_y=21, xlabel_y=369, ylabel_x=29),
    dict(title='Arterial pH', ylabel='IU',
         tracks=[ph_censored, ph_dead, ph_discharged],
         ylim=(7.038, 7.661), yticks=[7.2, 7.4, 7.6], yfmt='{:.1f}',
         cols=[(565, 689), (703, 827), (840, 964)], strip=(46, 84), panel=(84, 323),
         title_y=21, xlabel_y=369, ylabel_x=505),
    dict(title='C-reactive protein', ylabel='log(mg/L)',
         tracks=[crp_censored, crp_dead, crp_discharged],
         ylim=(0.854, 6.694), yticks=[2, 4, 6], yfmt='{:g}',
         cols=[(62, 192), (205, 335), (348, 478)], strip=(428, 467), panel=(467, 705),
         title_y=404, xlabel_y=751, ylabel_x=22),
]

for g in groups:
    for k, (outcome, tracks, (x0, x1)) in enumerate(zip(OUTCOMES, g['tracks'], g['cols'])):
        ax = px_axes(x0, g['panel'][0], x1, g['panel'][1])
        df = to_frame(tracks)
        sns.lineplot(data=df, x='day', y='value', units='id', estimator=None,
                     sort=False, color=COLOURS[outcome], linewidth=0.8,
                     legend=False, ax=ax)
        ax.set_xlim(-1.2, 31.3)
        ax.set_ylim(*g['ylim'])
        ax.set_xlabel('')
        ax.set_ylabel('')
        ax.set_xticks(DAY_TICKS)
        ax.set_xticklabels([str(t) for t in DAY_TICKS])
        for side in ['top', 'right']:
            ax.spines[side].set_visible(False)
        ax.spines['bottom'].set_linewidth(1.3)
        ax.spines['left'].set_linewidth(1.3)
        ax.tick_params(axis='both', length=4.3, width=1.0, color='#333333',
                       labelcolor='#4D4D4D', labelsize=14, pad=3)
        if k == 0:
            ax.set_yticks(g['yticks'])
            ax.set_yticklabels([g['yfmt'].format(t) for t in g['yticks']])
        else:
            ax.spines['left'].set_visible(False)
            ax.tick_params(axis='y', left=False, labelleft=False)
        ax.set_facecolor('white')

        # facet strip
        sax = px_axes(x0, g['strip'][0], x1, g['strip'][1])
        sax.set_xticks([])
        sax.set_yticks([])
        for sp in sax.spines.values():
            sp.set_linewidth(1.8)
            sp.set_color('black')
        sax.text(0.5, 0.5, outcome, ha='center', va='center', fontsize=14.5,
                 color='black', transform=sax.transAxes)

    cx = (g['cols'][0][0] + g['cols'][2][1]) / 2
    fig.text(cx / W, 1 - g['title_y'] / H, g['title'], ha='center', va='center',
             fontsize=15, color='black')
    fig.text(cx / W, 1 - g['xlabel_y'] / H, 'Time (days)', ha='center', va='center',
             fontsize=15, color='black')
    cy = (g['panel'][0] + g['panel'][1]) / 2
    fig.text(g['ylabel_x'] / W, 1 - cy / H, g['ylabel'], ha='center', va='center',
             rotation=90, fontsize=15, color='black')

fig.savefig('out.png', dpi=100, facecolor='white')
